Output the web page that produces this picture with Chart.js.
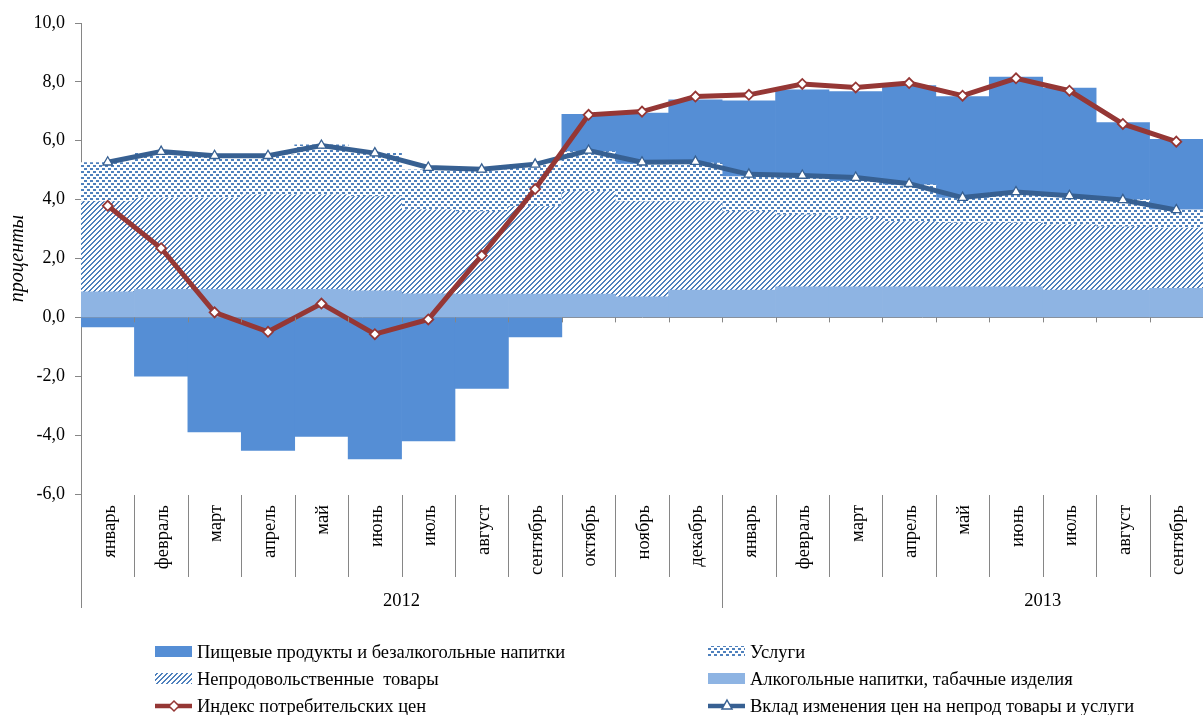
<!DOCTYPE html>
<html>
<head>
<meta charset="utf-8">
<script src="https://cdn.jsdelivr.net/npm/chart.js@4.4.1/dist/chart.umd.min.js"></script>
<style>
  html, body { margin: 0; padding: 0; background: #fff; }
  #wrap { width: 1203px; height: 715px; }
</style>
</head>
<body>
<div id="wrap"><canvas id="cpi" width="1203" height="715"></canvas></div>
<script>
// Вклад компонентов в годовую инфляцию, 2012-2013
const months = ['январь', 'февраль', 'март', 'апрель', 'май', 'июнь', 'июль', 'август', 'сентябрь',
  'октябрь', 'ноябрь', 'декабрь', 'январь', 'февраль', 'март', 'апрель', 'май', 'июнь', 'июль',
  'август', 'сентябрь'];
const years = ['2012', '2013'];
const yearFirstMonth = [0, 12];
const yTicks = [-6, -4, -2, 0, 2, 4, 6, 8, 10];

const alcohol = [0.87, 0.95, 0.95, 0.95, 0.95, 0.90, 0.80, 0.79, 0.79, 0.79, 0.70, 0.93,
  0.93, 1.04, 1.04, 1.04, 1.04, 1.04, 0.93, 0.93, 0.99];
const nonFood = [3.06, 3.10, 3.10, 3.21, 3.21, 3.20, 2.85, 2.80, 2.97, 3.48, 3.23, 3.00,
  2.66, 2.44, 2.33, 2.21, 2.16, 2.16, 2.21, 2.15, 2.04];
const services = [1.33, 1.53, 1.47, 1.36, 1.70, 1.48, 1.36, 1.42, 1.42, 1.36, 1.28, 1.31,
  1.19, 1.25, 1.25, 1.25, 0.85, 1.02, 0.96, 0.91, 0.62];
const food = [-0.32, -2.00, -3.89, -4.52, -4.04, -4.81, -4.20, -2.41, -0.66, 1.27, 1.73, 2.15,
  2.58, 3.00, 3.05, 3.37, 3.45, 3.94, 3.69, 2.63, 2.40];
const cpi = [3.79, 2.35, 0.17, -0.49, 0.47, -0.57, -0.07, 2.10, 4.36, 6.88, 6.99, 7.50,
  7.56, 7.93, 7.81, 7.96, 7.53, 8.12, 7.70, 6.57, 5.97];
const contrib = [5.27, 5.63, 5.49, 5.49, 5.84, 5.58, 5.09, 5.03, 5.20, 5.67, 5.27, 5.29,
  4.86, 4.82, 4.75, 4.54, 4.07, 4.26, 4.13, 3.99, 3.65];

(function drawChart() {
  const FONT = "'Liberation Serif', 'Times New Roman', serif";
  const AXIS = '#868686';
  const colors = {
    food: '#558ed5',
    alcohol: '#8eb4e3',
    pattern: '#4f81bd',
    cpi: '#953735',
    contrib: '#376092'
  };

  function makePattern(draw, size) {
    const c = document.createElement('canvas');
    c.width = size;
    c.height = size;
    const g = c.getContext('2d');
    g.fillStyle = '#fff';
    g.fillRect(0, 0, size, size);
    g.fillStyle = colors.pattern;
    draw(g);
    return g.createPattern(c, 'repeat');
  }

  // "////" штриховка
  const hatch = makePattern(function (g) {
    for (let i = 0; i < 5; i++) {
      g.fillRect(i, 4 - i, 1, 1);
      g.fillRect((i + 1) % 5, 4 - i, 1, 1);
    }
  }, 5);

  // мелкие квадратики
  const dots = makePattern(function (g) {
    g.fillRect(0, 0, 3, 2);
    g.fillRect(3, 3, 3, 2);
  }, 6);

  const barBase = {
    type: 'bar',
    stack: 'parts',
    order: 2,
    barPercentage: 1,
    categoryPercentage: 1,
    borderWidth: 0
  };

  const datasets = [
    { ...barBase, label: 'Алкогольные напитки, табачные изделия', data: alcohol, backgroundColor: colors.alcohol },
    { ...barBase, label: 'Непродовольственные  товары', data: nonFood, backgroundColor: hatch },
    { ...barBase, label: 'Услуги', data: services, backgroundColor: dots },
    { ...barBase, label: 'Пищевые продукты и безалкогольные напитки', data: food, backgroundColor: colors.food },
    {
      type: 'line',
      label: 'Вклад изменения цен на непрод товары и услуги',
      data: contrib,
      stack: 'contrib',
      order: 1,
      borderColor: colors.contrib,
      borderWidth: 5,
      pointStyle: 'triangle',
      pointRadius: 5.5,
      pointBackgroundColor: '#fff',
      pointBorderColor: colors.contrib,
      pointBorderWidth: 1.3,
      tension: 0
    },
    {
      type: 'line',
      label: 'Индекс потребительских цен',
      data: cpi,
      stack: 'cpi',
      order: 0,
      borderColor: colors.cpi,
      borderWidth: 5,
      pointStyle: 'rectRot',
      pointRadius: 5,
      pointBackgroundColor: '#fff',
      pointBorderColor: colors.cpi,
      pointBorderWidth: 1.8,
      tension: 0
    }
  ];

  const legendRows = [
    { label: 'Пищевые продукты и безалкогольные напитки', kind: 'box', fill: colors.food, col: 0, row: 0 },
    { label: 'Услуги', kind: 'box', fill: dots, col: 1, row: 0 },
    { label: 'Непродовольственные  товары', kind: 'box', fill: hatch, col: 0, row: 1 },
    { label: 'Алкогольные напитки, табачные изделия', kind: 'box', fill: colors.alcohol, col: 1, row: 1 },
    { label: 'Индекс потребительских цен', kind: 'line', color: colors.cpi, marker: 'diamond', col: 0, row: 2 },
    { label: 'Вклад изменения цен на непрод товары и услуги', kind: 'line', color: colors.contrib, marker: 'triangle', col: 1, row: 2 }
  ];

  function drawMarker(ctx, kind, x, y, color) {
    ctx.save();
    ctx.fillStyle = '#fff';
    ctx.strokeStyle = color;
    ctx.lineWidth = 1.5;
    ctx.beginPath();
    if (kind === 'diamond') {
      ctx.moveTo(x, y - 5);
      ctx.lineTo(x + 5, y);
      ctx.lineTo(x, y + 5);
      ctx.lineTo(x - 5, y);
    } else {
      ctx.moveTo(x, y - 6);
      ctx.lineTo(x + 5, y + 3);
      ctx.lineTo(x - 5, y + 3);
    }
    ctx.closePath();
    ctx.fill();
    ctx.stroke();
    ctx.restore();
  }

  const axisExtras = {
    id: 'axisExtras',
    afterDraw(chart) {
      const ctx = chart.ctx;
      const x = chart.scales.x;
      const y = chart.scales.y;
      const area = chart.chartArea;
      const step = x.getPixelForValue(1) - x.getPixelForValue(0);
      const zero = y.getPixelForValue(0);
      const labelTop = area.bottom + 11;
      const sepBottom = area.bottom + 83;
      const yearBottom = area.bottom + 114;

      ctx.save();
      ctx.strokeStyle = AXIS;
      ctx.lineWidth = 1;

      // левая ось уходит вниз до подписей годов
      ctx.beginPath();
      ctx.moveTo(area.left + 0.5, area.bottom);
      ctx.lineTo(area.left + 0.5, yearBottom);
      ctx.stroke();

      for (let i = 1; i < months.length; i++) {
        const bx = Math.round(x.getPixelForValue(i) - step / 2) + 0.5;
        // засечки на нулевой оси
        ctx.beginPath();
        ctx.moveTo(bx, zero);
        ctx.lineTo(bx, zero + 5);
        ctx.stroke();
        // разделители подписей месяцев
        ctx.beginPath();
        ctx.moveTo(bx, area.bottom + 1);
        ctx.lineTo(bx, yearFirstMonth.includes(i) ? yearBottom : sepBottom);
        ctx.stroke();
      }

      ctx.fillStyle = '#000';
      ctx.font = '18.5px ' + FONT;
      months.forEach(function (m, i) {
        ctx.save();
        ctx.translate(x.getPixelForValue(i) + 2, labelTop);
        ctx.rotate(-Math.PI / 2);
        ctx.textAlign = 'right';
        ctx.textBaseline = 'middle';
        ctx.fillText(m, 0, 0);
        ctx.restore();
      });

      ctx.textAlign = 'center';
      ctx.textBaseline = 'middle';
      years.forEach(function (yr, k) {
        const first = x.getPixelForValue(yearFirstMonth[k]) - step / 2;
        const cx = first + step * 6;
        ctx.fillText(yr, cx, area.bottom + 107);
      });

      // легенда
      ctx.textAlign = 'left';
      const colX = [197, 750];
      const rowY = [652, 679, 706];
      legendRows.forEach(function (item) {
        const tx = colX[item.col];
        const ty = rowY[item.row];
        if (item.kind === 'box') {
          ctx.fillStyle = item.fill;
          ctx.fillRect(tx - 42, ty - 6, 37, 11);
        } else {
          ctx.strokeStyle = item.color;
          ctx.lineWidth = 4.5;
          ctx.beginPath();
          ctx.moveTo(tx - 42, ty);
          ctx.lineTo(tx - 5, ty);
          ctx.stroke();
          drawMarker(ctx, item.marker, tx - 23, ty, item.color);
        }
        ctx.fillStyle = '#000';
        ctx.fillText(item.label, tx, ty + 1);
      });
      ctx.restore();
    }
  };

  new Chart(document.getElementById('cpi').getContext('2d'), {
    data: { labels: months, datasets },
    plugins: [axisExtras],
    options: {
      responsive: false,
      animation: false,
      layout: { autoPadding: false, padding: { top: 23, right: 0, bottom: 221, left: 0 } },
      plugins: {
        legend: { display: false },
        tooltip: { enabled: false }
      },
      scales: {
        x: {
          display: false,
          stacked: true
        },
        y: {
          stacked: true,
          min: -6,
          max: 10,
          afterBuildTicks(scale) {
            scale.ticks = yTicks.map(function (v) { return { value: v }; });
          },
          afterFit(scale) {
            scale.width = 81;
          },
          border: { display: true, color: AXIS, width: 1 },
          grid: {
            drawOnChartArea: true,
            color: function (c) { return c.tick && c.tick.value === 0 ? AXIS : 'rgba(0,0,0,0)'; },
            tickColor: AXIS,
            tickLength: 6
          },
          ticks: {
            color: '#000',
            padding: 10,
            font: { family: FONT, size: 18 },
            callback: function (v) { return v.toFixed(1).replace('.', ','); }
          },
          title: {
            display: true,
            text: 'проценты',
            color: '#000',
            padding: { top: 6, bottom: 0 },
            font: { family: FONT, size: 20, style: 'italic' }
          }
        }
      }
    }
  });
})();
</script>
</body>
</html>
